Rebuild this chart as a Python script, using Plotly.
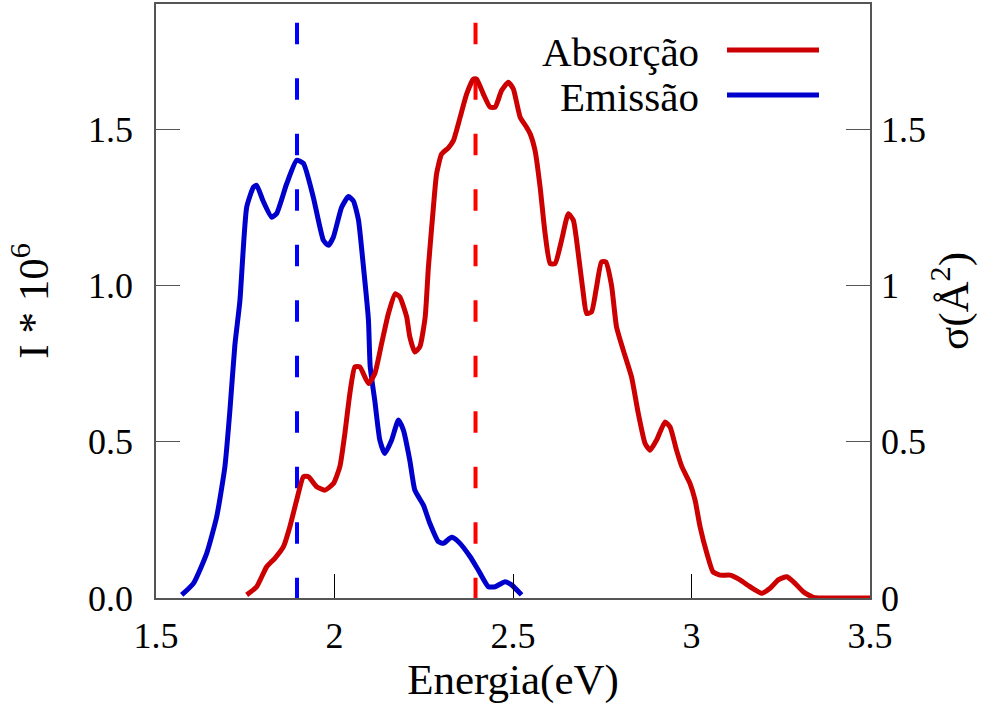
import plotly.graph_objects as go

# Emission spectrum (left axis, I * 10^6)
em_energy = [1.572, 1.605, 1.642, 1.670, 1.693, 1.707, 1.721, 1.735, 1.754, 1.773, 1.782, 1.800,
             1.824, 1.838, 1.866, 1.894, 1.913, 1.941, 1.969, 1.983, 1.997, 2.020, 2.039, 2.053,
             2.067, 2.081, 2.095, 2.100, 2.113, 2.127, 2.141, 2.160, 2.179, 2.193, 2.211, 2.225,
             2.249, 2.267, 2.291, 2.305, 2.328, 2.347, 2.380, 2.403, 2.431, 2.450, 2.478, 2.496, 2.524]
em_intensity = [0.010, 0.047, 0.143, 0.260, 0.420, 0.600, 0.810, 0.950, 1.250, 1.314, 1.320, 1.270,
                1.218, 1.230, 1.325, 1.400, 1.390, 1.280, 1.144, 1.128, 1.155, 1.250, 1.284, 1.270,
                1.210, 1.060, 0.890, 0.740, 0.630, 0.505, 0.462, 0.505, 0.569, 0.537, 0.440, 0.345,
                0.297, 0.239, 0.180, 0.175, 0.194, 0.180, 0.132, 0.089, 0.036, 0.036, 0.052, 0.042, 0.010]

# Absorption cross-section (right axis, sigma in A^2)
ab_energy = [1.754, 1.782, 1.810, 1.833, 1.857, 1.875, 1.894, 1.913, 1.927, 1.950, 1.973, 1.997,
             2.015, 2.029, 2.043, 2.057, 2.071, 2.095, 2.113, 2.132, 2.151, 2.170, 2.183, 2.202,
             2.211, 2.225, 2.239, 2.254, 2.263, 2.277, 2.286, 2.300, 2.319, 2.333, 2.352, 2.370,
             2.389, 2.398, 2.417, 2.436, 2.450, 2.468, 2.487, 2.501, 2.520, 2.538, 2.548, 2.562,
             2.576, 2.590, 2.604, 2.618, 2.636, 2.655, 2.669, 2.683, 2.697, 2.706, 2.720, 2.734,
             2.748, 2.760, 2.776, 2.790, 2.809, 2.832, 2.851, 2.870, 2.884, 2.902, 2.926, 2.940,
             2.958, 2.973, 2.996, 3.010, 3.024, 3.043, 3.060, 3.080, 3.108, 3.136, 3.164, 3.197,
             3.220, 3.243, 3.267, 3.290, 3.313, 3.341, 3.400, 3.500]
ab_sigma = [0.010, 0.036, 0.100, 0.127, 0.164, 0.228, 0.313, 0.388, 0.388, 0.356, 0.345, 0.366,
            0.420, 0.526, 0.654, 0.739, 0.739, 0.686, 0.718, 0.814, 0.910, 0.973, 0.963, 0.900,
            0.835, 0.787, 0.803, 0.899, 1.058, 1.250, 1.357, 1.420, 1.440, 1.463, 1.538, 1.612,
            1.660, 1.660, 1.612, 1.570, 1.570, 1.623, 1.650, 1.628, 1.538, 1.506, 1.485, 1.430,
            1.314, 1.165, 1.070, 1.070, 1.144, 1.229, 1.208, 1.100, 0.973, 0.910, 0.915, 0.995,
            1.075, 1.075, 1.000, 0.867, 0.792, 0.707, 0.590, 0.494, 0.473, 0.505, 0.563, 0.547,
            0.473, 0.420, 0.366, 0.313, 0.228, 0.143, 0.084, 0.073, 0.073, 0.058, 0.036, 0.015,
            0.031, 0.058, 0.068, 0.047, 0.020, 0.002, 0.000, 0.000]

# Peak markers (dashed verticals)
em_peak = 1.895
ab_peak = 2.395
marker_top = 1.84

series_names = ["Absorção", "Emissão"]
RED, BLUE = "#cc0000", "#0000cc"
FONT = "Liberation Serif"
FS = 36

fig = go.Figure()
fig.add_trace(go.Scatter(x=[em_peak, em_peak], y=[marker_top, 0], mode="lines",
                         line=dict(color="#0000ff", width=4, dash="21.5px,34px"),
                         showlegend=False, hoverinfo="skip"))
fig.add_trace(go.Scatter(x=[ab_peak, ab_peak], y=[marker_top, 0], mode="lines", yaxis="y2",
                         line=dict(color="#ff0000", width=4, dash="21.5px,34px"),
                         showlegend=False, hoverinfo="skip"))
fig.add_trace(go.Scatter(x=em_energy, y=em_intensity, mode="lines", name=series_names[1],
                         line=dict(color=BLUE, width=5, shape="spline", smoothing=0.5),
                         showlegend=False))
fig.add_trace(go.Scatter(x=ab_energy, y=ab_sigma, mode="lines", name=series_names[0], yaxis="y2",
                         line=dict(color=RED, width=5, shape="spline", smoothing=0.5),
                         showlegend=False))

# Legend drawn as text on the left of its line sample (as in reference)
L, R, T, B = 156, 114, 4, 110
W, H = 984 - L - R, 708 - T - B
def px(x): return (x - L) / W
def py(y): return (708 - B - y) / H
for name, color, ypix in [(series_names[0], RED, 50), (series_names[1], BLUE, 95)]:
    fig.add_annotation(x=px(701), y=py(ypix + 2), xref="paper", yref="paper", text=name,
                       showarrow=False, xanchor="right", yanchor="middle",
                       font=dict(family=FONT, size=41, color="black"))
    fig.add_shape(type="line", xref="paper", yref="paper", x0=px(727), x1=px(819),
                  y0=py(ypix), y1=py(ypix), line=dict(color=color, width=5))

axis_col = "#555555"
fig.update_layout(
    width=984, height=708,
    margin=dict(l=L, r=R, t=T, b=B, autoexpand=False),
    paper_bgcolor="white", plot_bgcolor="white",
    font=dict(family=FONT, size=FS, color="black"),
    xaxis=dict(range=[1.5, 3.5], tickvals=[1.5, 2, 2.5, 3, 3.5],
               ticktext=["1.5", "2", "2.5", "3", "3.5"], automargin=False,
               ticks="inside", ticklen=24, tickcolor="black", tickwidth=1,
               showline=True, linecolor=axis_col, linewidth=1.5, mirror=True,
               showgrid=False, zeroline=False,
               title=dict(text="Energia(eV)", standoff=0), ticklabelstandoff=5),
    yaxis=dict(range=[0, 1.9], tickvals=[0, 0.5, 1.0, 1.5], tickformat=".1f", automargin=False,
               ticks="inside", ticklen=24, tickcolor=axis_col, tickwidth=1,
               showline=True, linecolor=axis_col, linewidth=1.5, mirror=True,
               showgrid=False, zeroline=False, ticklabelstandoff=14,
               title=dict(text="I * 10<sup>6</sup>", standoff=26)),
    yaxis2=dict(range=[0, 1.9], overlaying="y", side="right", automargin=False,
                tickvals=[0, 0.5, 1, 1.5], ticktext=["0", "0.5", "1", "1.5"],
                ticks="inside", ticklen=24, tickcolor=axis_col, tickwidth=1,
                showline=False, showgrid=False, zeroline=False, ticklabelstandoff=10,
                title=dict(text="σ(Å<sup>2</sup>)", standoff=12)),
)

fig.write_html("out.html", config={"displayModeBar": False},
               post_script="document.body.style.margin='0';document.body.style.overflow='hidden';")
